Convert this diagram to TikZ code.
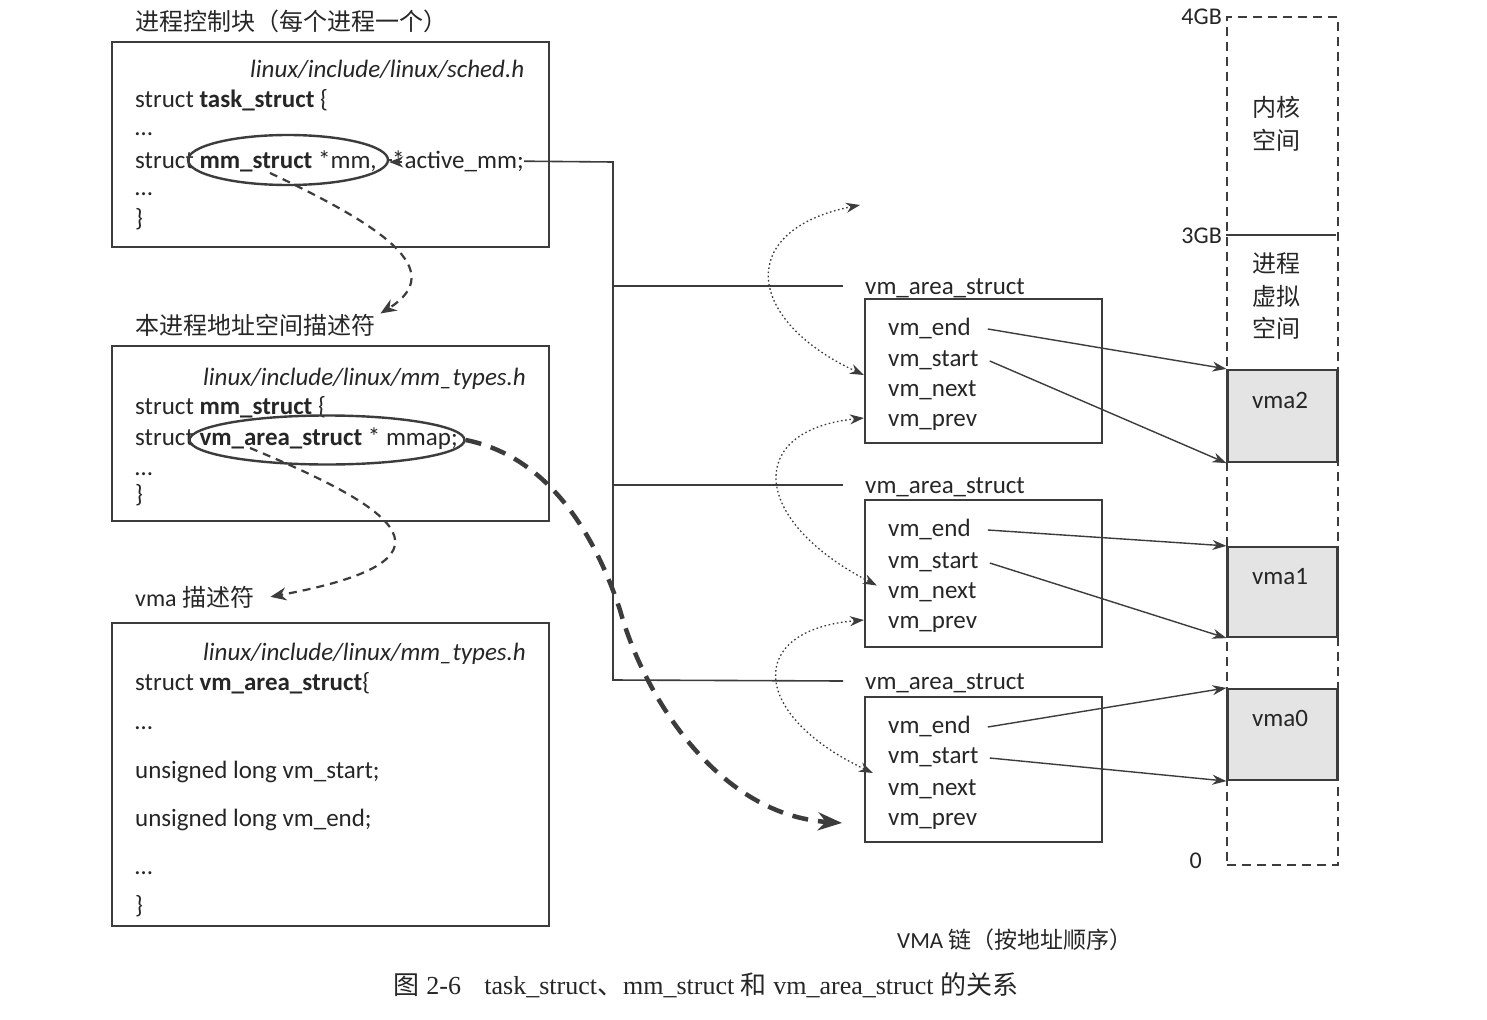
\documentclass[tikz,border=0pt]{standalone}
\usepackage{fontspec}
\setmainfont{Carlito}
\newfontfamily\cjk{Noto Sans CJK SC}
\newfontfamily\capserif{Liberation Serif}
\usetikzlibrary{arrows.meta,shapes.geometric,backgrounds}
\definecolor{ink}{HTML}{262626}
\definecolor{frame}{HTML}{3C3C3C}
\definecolor{vmafill}{HTML}{E4E4E4}
\begin{document}
\begin{tikzpicture}[x=1pt,y=-1pt,
  every node/.style={inner sep=0pt, text=ink},
  codeln/.style={anchor=base west, font=\fontsize{25}{30}\selectfont},
  fpath/.style={anchor=base west, font=\fontsize{25}{30}\selectfont\itshape},
  zh/.style={anchor=base west, font=\fontsize{24}{30}\selectfont\cjk},
  zhc/.style={font=\fontsize{24}{30}\selectfont\cjk},
  panel/.style={draw=frame, line width=2pt, minimum width=437pt},
  vbox/.style={draw=frame, line width=2.2pt, minimum width=237pt},
  vmabox/.style={draw=frame, fill=vmafill, line width=2.2pt, minimum width=110pt},
  ell/.style={ellipse, draw=frame, line width=2.4pt},
  thinarrow/.style={draw=frame, line width=1.4pt, -{Stealth[length=14pt,width=10pt]}},
  dotarrow/.style={draw=frame, line width=1.3pt, dash pattern=on 1.6pt off 2.6pt, {Stealth[length=14pt,width=10pt]}-{Stealth[length=14pt,width=10pt]}},
  thindash/.style={draw=frame, line width=2.2pt, dash pattern=on 8pt off 6pt, -{Stealth[length=16pt,width=13pt]}},
  thickdash/.style={draw=frame, line width=4.5pt, dash pattern=on 16pt off 10pt, -{Stealth[length=24pt,width=18pt]}},
  busline/.style={draw=frame, line width=1.6pt},
  bushead/.style={draw=frame, line width=1.6pt, -{Stealth[length=14pt,width=11pt]}}
]
\useasboundingbox (0,0) rectangle (1487,1019);

% ---------- task_struct ----------
\node[zh] (t1) at (135,31) {进程控制块（每个进程一个）};
\node[panel, minimum height=205pt] (tb) at (330.5,144.5) {};
\node[fpath] (p1) at (250,78) {linux/include/linux/sched.h};
\node[codeln] (l11) at (135,108) {struct \textbf{task\_struct} \{};
\node[codeln] (l12) at (135,136) {…};
\node[codeln] (l13) at (135,168) {struct \textbf{mm\_struct} *mm,};
\node[codeln, fill=white] (l13b) at (392,168) {*active\_mm;};
\node[codeln] (l14) at (135,196) {…};
\node[codeln] (l15) at (135,226) {\}};
\node[ell, minimum width=200pt, minimum height=50pt] (e1) at (288,160) {};

% ---------- mm_struct ----------
\node[zh] (t2) at (135,334) {本进程地址空间描述符};
\node[panel, minimum height=175pt] (mb) at (330.5,433.5) {};
\node[fpath] (p2) at (203,385) {linux/include/linux/mm\_types.h};
\node[codeln] (l21) at (135,414) {struct \textbf{mm\_struct} \{};
\node[codeln] (l22) at (135,445) {struct \textbf{vm\_area\_struct} * mmap;};
\node[codeln] (l23) at (135,475) {…};
\node[codeln] (l24) at (135,502) {\}};
\node[ell, minimum width=275pt, minimum height=49pt] (e2) at (327,440) {};

% ---------- vm_area_struct ----------
\node[codeln, font=\fontsize{24}{30}\selectfont] (t3) at (135,606) {vma {\cjk 描述符}};
\node[panel, minimum height=303pt] (vb) at (330.5,774.5) {};
\node[fpath] (p3) at (203,660) {linux/include/linux/mm\_types.h};
\node[codeln] (l31) at (135,690) {struct \textbf{vm\_area\_struct}\{};
\node[codeln] (l32) at (135,729) {…};
\node[codeln] (l33) at (135,778) {unsigned long vm\_start;};
\node[codeln] (l34) at (135,826) {unsigned long vm\_end;};
\node[codeln] (l35) at (135,874) {…};
\node[codeln] (l36) at (135,913) {\}};

% ---------- VMA chain ----------
\node[codeln] (alab) at (865,294) {vm\_area\_struct};
\node[vbox, minimum height=144pt] (A) at (983.5,371) {};
\node[codeln] (aend) at (888,335) {vm\_end};
\node[codeln] (astart) at (888,366) {vm\_start};
\node[codeln] (anext) at (888,396) {vm\_next};
\node[codeln] (aprev) at (888,426) {vm\_prev};

\node[codeln] (blab) at (865,493) {vm\_area\_struct};
\node[vbox, minimum height=147pt] (B) at (983.5,573.5) {};
\node[codeln] (bend) at (888,536) {vm\_end};
\node[codeln] (bstart) at (888,568) {vm\_start};
\node[codeln] (bnext) at (888,598) {vm\_next};
\node[codeln] (bprev) at (888,628) {vm\_prev};

\node[codeln] (clab) at (865,689) {vm\_area\_struct};
\node[vbox, minimum height=145pt] (C) at (983.5,769.5) {};
\node[codeln] (cend) at (888,733) {vm\_end};
\node[codeln] (cstart) at (888,763) {vm\_start};
\node[codeln] (cnext) at (888,795) {vm\_next};
\node[codeln] (cprev) at (888,825) {vm\_prev};

\node[anchor=base west, font=\fontsize{23}{28}\selectfont] (chain) at (897,948) {VMA {\cjk 链（按地址顺序）}};

% ---------- memory column ----------
\node[draw=frame, dash pattern=on 9pt off 6pt, line width=2pt, minimum width=111pt, minimum height=848pt] (mem) at (1282.5,441) {};
\node[anchor=base east, font=\fontsize{24}{28}\selectfont] (g4) at (1222,25) {4GB};
\node[anchor=base east, font=\fontsize{24}{28}\selectfont] (g3) at (1222,243) {3GB};
\node[anchor=base east, font=\fontsize{24}{28}\selectfont] (g0) at (1202,868) {0};
\coordinate (g3a) at (1226,235);
\coordinate (g3b) at (1336,235);
\draw[frame, line width=2pt] (g3a) -- (g3b);
\node[zhc] (k1) at (1276,107) {内核};
\node[zhc] (k2) at (1276,140) {空间};
\node[zhc] (u1) at (1276,264) {进程};
\node[zhc] (u2) at (1276,296) {虚拟};
\node[zhc] (u3) at (1276,328) {空间};
\node[vmabox, minimum height=92pt] (v2) at (1282.5,416) {};
\node[vmabox, minimum height=90pt] (v1) at (1282.5,592) {};
\node[vmabox, minimum height=91pt] (v0) at (1282.5,734.5) {};
\node[font=\fontsize{25}{30}\selectfont] (v2t) at (1280,400) {vma2};
\node[font=\fontsize{25}{30}\selectfont] (v1t) at (1280,577) {vma1};
\node[font=\fontsize{25}{30}\selectfont] (v0t) at (1280,718) {vma0};

% ---------- caption ----------
\node[font=\fontsize{26}{30}\selectfont\capserif] (cap) at (706,985) {{\cjk 图} 2-6\hspace{0.9em}task\_struct{\cjk 、}mm\_struct {\cjk 和} vm\_area\_struct {\cjk 的关系}};

% ---------- connectors ----------
\begin{scope}[on background layer]
\fill[white] (0,0) rectangle (1487,1019);
\coordinate (busb) at (613,680);
\coordinate (bust) at (613,162);
\draw[busline] ([xshift=-22pt,yshift=8pt]clab.base west) -- (busb) -- (bust) -- (e1.east);
\draw[busline] ([xshift=-22pt,yshift=8pt]alab.base west) -- ([yshift=8pt]alab.base west -| busb);
\draw[busline] ([xshift=-22pt,yshift=8pt]blab.base west) -- ([yshift=8pt]blab.base west -| busb);
\end{scope}
\draw[bushead] ([xshift=13pt,yshift=-2pt]e1.east) -- ([yshift=-2pt]e1.east);

\draw[thindash] ([xshift=-18pt,yshift=-13pt]e1.center) .. controls (380,225) and (450,270) .. ([xshift=5pt]t2.north east);
\draw[thindash] ([xshift=-77pt,yshift=-8pt]e2.center) .. controls (400,510) and (470,560) .. ([xshift=16pt]t3.east);
\draw[thickdash] (e2.east) .. controls (540,455) and (590,520) .. (620,610) .. controls (645,700) and (720,815) .. ([xshift=-46pt,yshift=-2pt]cprev.west);

\coordinate (nullnext) at (860,205);
\draw[dotarrow] ([yshift=-4pt]A.west) .. controls (745,320) and (735,230) .. (nullnext);
\draw[dotarrow] ([yshift=-47pt]A.west) .. controls (745,430) and (750,520) .. ([xshift=13pt,yshift=-12pt]B.west);
\draw[dotarrow] ([yshift=-46.5pt]B.west) .. controls (745,630) and (750,715) .. ([xshift=9pt,yshift=-3.5pt]C.west);

\draw[thinarrow] ([xshift=17pt,yshift=6pt]aend.base east) -- (v2.north west);
\draw[thinarrow] ([xshift=11pt,yshift=5pt]astart.base east) -- (v2.south west);
\draw[thinarrow] ([xshift=17pt,yshift=6pt]bend.base east) -- (v1.north west);
\draw[thinarrow] ([xshift=11pt,yshift=5pt]bstart.base east) -- (v1.south west);
\draw[thinarrow] ([xshift=17pt,yshift=6pt]cend.base east) -- (v0.north west);
\draw[thinarrow] ([xshift=11pt,yshift=5pt]cstart.base east) -- (v0.south west);
\end{tikzpicture}
\end{document}
